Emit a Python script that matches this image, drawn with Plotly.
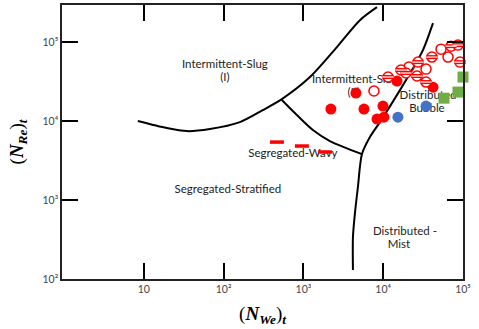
import plotly.graph_objects as go

# ---- boundary curves (x = N_We, y = N_Re) ----
curveA_x = [8.41, 19.4, 34.6, 67.3, 160, 310, 537, 1208, 2630, 5105, 8356]
curveA_y = [10000, 8150, 7464, 7925, 9705, 13770, 18970, 36060, 86500, 189700, 277300]
curveB_x = [537, 828, 1315, 2148, 5420]
curveB_y = [18450, 11910, 7690, 5585, 3820]
curveC_x = [42070, 31480, 22960, 16220, 9100, 6820, 5420, 4820, 4426, 4178, 4178]
curveC_y = [174200, 79250, 44260, 24660, 9700, 6266, 3820, 1462, 684, 340, 130]

# ---- data points ----
filled_x = [4550, 2210, 5740, 9930, 8360, 10200, 14900, 42100]
filled_y = [22600, 14200, 14200, 15500, 10600, 11200, 32100, 26900]
open_x = [7660, 21000, 34400, 53000, 64900, 112000, 109000]
open_y = [24000, 48300, 45500, 81500, 64600, 116000, 74600]
striped_x = [11500, 16700, 19300, 26500, 27300, 34400, 40800, 70800, 86500, 91600]
striped_y = [36100, 44300, 40600, 37200, 55800, 31200, 64600, 88900, 91600, 55800]
blue_x = [15300, 34400]
blue_y = [11200, 15500]
green_x = [57800, 86500, 100000]
green_y = [19500, 23300, 36100]
dash_x = [466, 957, 1860]
dash_y = [5420, 4830, 4060]

# ---- region labels ----
label_text = ["Intermittent-Slug", "(I)", "Intermittent-Slug", "(II)", "Distributed", "Bubble",
              "Segregated-Wavy", "Segregated-Stratified", "Distributed -", "Mist"]
label_x = [103.8, 103.8, 4426, 4295, 36400, 35400, 738, 113, 18750, 15740]
label_y = [51200, 35000, 33000, 22600, 20700, 14200, 3820, 1340, 393, 269]

x_tickvals = [10, 100, 1000, 10000, 100000]
x_ticktext = ["10", "10²", "10³", "10⁴", "10⁵"]
y_tickvals = [100, 1000, 10000, 100000]
y_ticktext = ["10²", "10³", "10⁴", "10⁵"]

RED = "#ff0000"
fig = go.Figure()
line_style = dict(color="black", width=2, shape="spline", smoothing=0.8)
for cx, cy in [(curveA_x, curveA_y), (curveB_x, curveB_y), (curveC_x, curveC_y)]:
    fig.add_trace(go.Scatter(x=cx, y=cy, mode="lines", line=line_style, hoverinfo="skip"))

fig.add_trace(go.Scatter(x=label_x, y=label_y, mode="text", text=label_text,
                         textposition="middle center",
                         textfont=dict(family="Lato", size=11.5, color="#222222")))

mk = dict(mode="markers", cliponaxis=False)
fig.add_trace(go.Scatter(x=dash_x, y=dash_y, marker=dict(symbol="line-ew", size=10,
                         line=dict(color=RED, width=3.5)), **mk))
fig.add_trace(go.Scatter(x=filled_x, y=filled_y, marker=dict(symbol="circle", size=11, color=RED), **mk))
fig.add_trace(go.Scatter(x=open_x, y=open_y, marker=dict(symbol="circle-open", size=10,
                         line=dict(color=RED, width=1.5), color=RED), **mk))
fig.add_trace(go.Scatter(x=striped_x, y=striped_y, marker=dict(symbol="circle", size=10, color="white",
                         line=dict(color=RED, width=1.5)), **mk))
fig.add_trace(go.Scatter(x=striped_x, y=striped_y, marker=dict(symbol="line-ew", size=8,
                         line=dict(color=RED, width=4)), **mk))
fig.add_trace(go.Scatter(x=striped_x, y=striped_y, marker=dict(symbol="line-ew", size=8,
                         line=dict(color="white", width=1.2)), **mk))
fig.add_trace(go.Scatter(x=blue_x, y=blue_y, marker=dict(symbol="circle", size=11, color="#4472c4"), **mk))
fig.add_trace(go.Scatter(x=green_x, y=green_y, marker=dict(symbol="square", size=11, color="#70ad47"), **mk))

axis_common = dict(type="log", showgrid=False, zeroline=False, showline=True, linecolor="#222222",
                   linewidth=1.5, mirror="ticks", ticks="inside", ticklen=16, tickwidth=1.5,
                   tickcolor="black", tickfont=dict(family="Lato", size=10.5, color="#444444"))
fig.update_xaxes(range=[-0.025, 5.0], tickvals=x_tickvals, ticktext=x_ticktext,
                 title=dict(text="(<b><i>N</i></b><sub><b><i>We</i></b></sub>)<sub><b><i>t</i></b></sub>",
                            font=dict(family="Liberation Serif", size=19, color="black"), standoff=12),
                 **axis_common)
fig.update_yaxes(range=[2.0, 5.47], tickvals=y_tickvals, ticktext=y_ticktext,
                 title=dict(text="(<b><i>N</i></b><sub><b><i>Re</i></b></sub>)<sub><b><i>t</i></b></sub>",
                            font=dict(family="Liberation Serif", size=19, color="black"), standoff=14),
                 **axis_common)
fig.update_layout(width=479, height=329, margin=dict(l=62, r=16, t=5, b=50, autoexpand=False),
                  paper_bgcolor="white", plot_bgcolor="white", showlegend=False)
fig.write_html("out.html")
